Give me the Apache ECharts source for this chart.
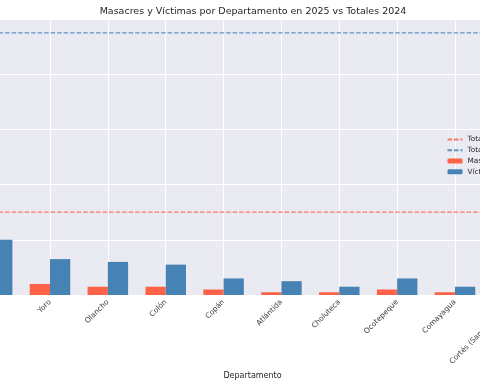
<!DOCTYPE html>
<html>
<head>
<meta charset="utf-8">
<script src="https://cdn.jsdelivr.net/npm/echarts@6/dist/echarts.min.js"></script>
<style>html,body{margin:0;padding:0;background:#fff;}#c{width:480px;height:384px;}</style>
</head>
<body>
<div id="c"></div>
<script>
// Data
const categories = ['Francisco Morazán', 'Yoro', 'Olancho', 'Colón', 'Copán', 'Atlántida', 'Choluteca', 'Ocotepeque', 'Comayagua', 'Cortés (San Pedro Sula)'];
const masacres2025 = [5, 4, 3, 3, 2, 1, 1, 2, 1, 4];
const victimas2025 = [20, 13, 12, 11, 6, 5, 3, 6, 3, 14];
const totalMasacres2024 = 30;
const totalVictimas2024 = 95;
const yTicks = [0, 20, 40, 60, 80];

const RED = '#FF6347', BLUE = '#4682B4', BG = '#EAEAF2', TXT = '#262626';
const FONT = 'DejaVu Sans';

const chart = echarts.init(document.getElementById('c'), null, {renderer: 'canvas'});
const plotH = 295 - 19.7;
chart.setOption({
  animation: false,
  backgroundColor: '#fff',
  textStyle: {fontFamily: FONT},
  title: {
    text: 'Masacres y Víctimas por Departamento en 2025 vs Totales 2024',
    left: 253, top: 6.5, textAlign: 'center', padding: 0,
    textStyle: {fontFamily: FONT, fontSize: 9.5, fontWeight: 'normal', color: TXT}
  },
  legend: {
    orient: 'vertical', left: 446.5, top: 134, padding: 0,
    itemWidth: 15, itemHeight: 5, itemGap: 0,
    textStyle: {fontFamily: FONT, fontSize: 7.3, color: TXT, lineHeight: 10.8},
    data: [
      {name: 'Total Masacres 2024', itemStyle: {opacity: 0}},
      {name: 'Total Víctimas 2024', itemStyle: {opacity: 0}},
      'Masacres 2025', 'Víctimas 2025'
    ]
  },
  grid: {left: -36.8, right: -61.8, top: 19.7, bottom: 384 - 295, show: true, backgroundColor: BG, borderWidth: 0,
         containLabel: false, outerBoundsMode: 'none'},
  xAxis: {
    type: 'category', data: categories, boundaryGap: true,
    name: 'Departamento', nameLocation: 'middle', nameGap: 71.5,
    nameTextStyle: {fontFamily: FONT, fontSize: 8, color: TXT},
    axisLine: {show: false},
    axisTick: {show: true, inside: true, alignWithLabel: true, length: plotH, lineStyle: {color: '#fff', width: 1}},
    axisLabel: {rotate: 45, fontSize: 7.4, fontFamily: FONT, color: '#3a3a3a', margin: 6, interval: 0},
    splitLine: {show: false}
  },
  yAxis: {
    type: 'value', min: 0, max: totalVictimas2024 * 1.05, interval: 20,
    axisLine: {show: false}, axisTick: {show: false},
    axisLabel: {show: false},
    splitLine: {show: true, lineStyle: {color: '#fff', width: 1}}
  },
  series: [
    {
      name: 'Total Masacres 2024', type: 'line', symbol: 'none', z: 3,
      data: categories.map(() => totalMasacres2024),
      lineStyle: {color: RED, width: 1.2, type: [4.5, 2], opacity: 0.85},
      itemStyle: {color: RED}
    },
    {
      name: 'Total Víctimas 2024', type: 'line', symbol: 'none', z: 3,
      data: categories.map(() => totalVictimas2024),
      lineStyle: {color: BLUE, width: 1.2, type: [4.5, 2], opacity: 0.85},
      itemStyle: {color: BLUE}
    },
    {
      name: 'Masacres 2025', type: 'bar', barWidth: '35%', barGap: '0%',
      data: masacres2025, itemStyle: {color: RED}
    },
    {
      name: 'Víctimas 2025', type: 'bar', barWidth: '35%', barGap: '0%',
      data: victimas2025, itemStyle: {color: BLUE}
    }
  ]
});
</script>
</body>
</html>
